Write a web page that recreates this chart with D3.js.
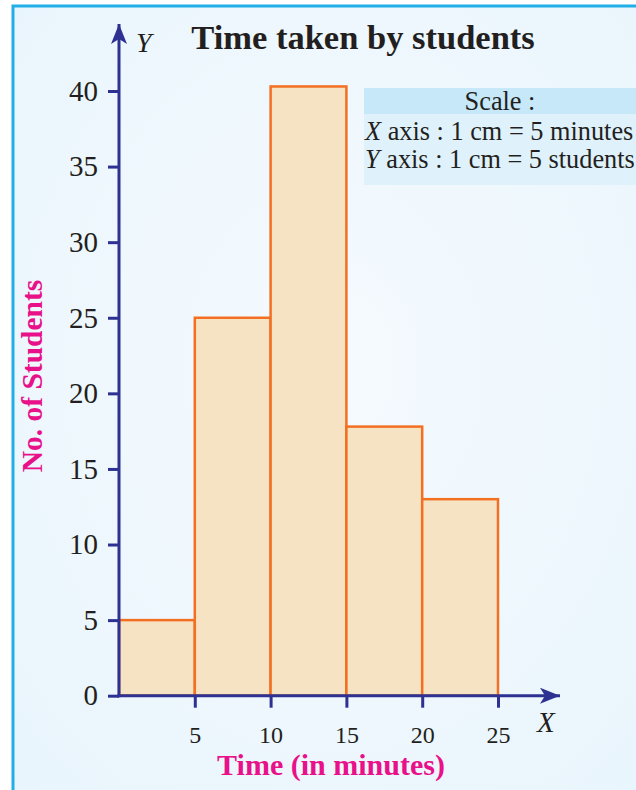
<!DOCTYPE html>
<html>
<head>
<meta charset="utf-8">
<script src="https://cdn.jsdelivr.net/npm/d3@7"></script>
<style>
  html, body { margin: 0; padding: 0; background: #ffffff; }
  svg { display: block; }
</style>
</head>
<body>
<svg id="chart" width="636" height="790"></svg>
<script>
// ---- data ----
const binStarts = [0, 5, 10, 15, 20];
const binEnds   = [5, 10, 15, 20, 25];
const students  = [5, 25, 40.3, 17.8, 13];
const yTicks    = [0, 5, 10, 15, 20, 25, 30, 35, 40];
const xTicks    = [5, 10, 15, 20, 25];
const titleText = "Time taken by students";
const xTitle    = "Time (in minutes)";
const yTitle    = "No. of Students";
const scaleLines = ["Scale :", "axis : 1 cm = 5 minutes", "axis : 1 cm = 5 students"];
const scaleAxes  = ["", "X", "Y"];

const svg = d3.select("#chart");
const serif = "'Liberation Serif', 'DejaVu Serif', serif";
const axisColor = "#2e3192";

// background
const defs = svg.append("defs");
const grad = defs.append("radialGradient").attr("id", "bg")
  .attr("cx", "50%").attr("cy", "45%").attr("r", "75%");
grad.append("stop").attr("offset", "0%").attr("stop-color", "#f5fafe");
grad.append("stop").attr("offset", "100%").attr("stop-color", "#e8f5fc");
svg.append("rect").attr("x", 0).attr("y", 0).attr("width", 636).attr("height", 790).attr("fill", "#ffffff");
svg.append("rect").attr("x", 13).attr("y", 6).attr("width", 640).attr("height", 800)
  .attr("fill", "url(#bg)").attr("stroke", "#22aee6").attr("stroke-width", 3);

// arrow markers
defs.append("marker").attr("id", "arrow").attr("viewBox", "0 0 20 16")
  .attr("refX", 20).attr("refY", 8).attr("markerWidth", 20).attr("markerHeight", 16)
  .attr("markerUnits", "userSpaceOnUse").attr("orient", "auto")
  .append("path").attr("d", "M0,0 L20,8 L0,16 L5,8 Z").attr("fill", axisColor);

const x = d3.scaleLinear().domain([0, 25]).range([119, 498]);
const y = d3.scaleLinear().domain([0, 40]).range([695.7, 91]);

// bars
svg.append("g").selectAll("rect").data(students).join("rect")
  .attr("x", (d, i) => x(binStarts[i]))
  .attr("y", d => y(d))
  .attr("width", (d, i) => x(binEnds[i]) - x(binStarts[i]))
  .attr("height", d => y(0) - y(d))
  .attr("fill", "#f6e3c3")
  .attr("stroke", "#f36f21")
  .attr("stroke-width", 2.5);

// y axis
const yAxis = svg.append("g").attr("transform", `translate(${x(0)},0)`)
  .call(d3.axisLeft(y).tickValues(yTicks).tickSize(11).tickPadding(10).tickFormat(d3.format("d")));
yAxis.select(".domain").remove();
yAxis.selectAll(".tick line").attr("stroke", axisColor).attr("stroke-width", 3);
yAxis.selectAll(".tick text").attr("fill", "#231f20").style("font-family", serif).style("font-size", "29px");

// x axis
const xAxis = svg.append("g").attr("transform", `translate(0,${y(0)})`)
  .call(d3.axisBottom(x).tickValues(xTicks).tickSize(12).tickPadding(18).tickFormat(d3.format("d")));
xAxis.select(".domain").remove();
xAxis.selectAll(".tick line").attr("stroke", axisColor).attr("stroke-width", 3);
xAxis.selectAll(".tick text").attr("fill", "#231f20").style("font-family", serif).style("font-size", "24px");

// axis lines with arrows
svg.append("line").attr("x1", x(0)).attr("y1", y(0) + 1.5).attr("x2", x(0)).attr("y2", 24)
  .attr("stroke", axisColor).attr("stroke-width", 3).attr("marker-end", "url(#arrow)");
svg.append("line").attr("x1", x(0) - 1.5).attr("y1", y(0)).attr("x2", 560).attr("y2", y(0))
  .attr("stroke", axisColor).attr("stroke-width", 3).attr("marker-end", "url(#arrow)");

// axis letters
svg.append("text").attr("x", 136).attr("y", 52).text("Y")
  .style("font-family", serif).style("font-style", "italic").style("font-size", "28px").attr("fill", "#231f20");
svg.append("text").attr("x", 537).attr("y", 732).text("X")
  .style("font-family", serif).style("font-style", "italic").style("font-size", "29px").attr("fill", "#231f20");

// title
svg.append("text").attr("x", 363).attr("y", 49).attr("text-anchor", "middle").text(titleText)
  .style("font-family", serif).style("font-weight", "bold").style("font-size", "34.5px").attr("fill", "#231f20");

// axis titles
svg.append("text").attr("x", 331).attr("y", 775).attr("text-anchor", "middle").text(xTitle)
  .style("font-family", serif).style("font-weight", "bold").style("font-size", "30px").attr("fill", "#e8118a");
svg.append("text").attr("transform", "translate(42,376) rotate(-90)").attr("text-anchor", "middle").text(yTitle)
  .style("font-family", serif).style("font-weight", "bold").style("font-size", "29.5px").attr("fill", "#e8118a");

// scale box
svg.append("rect").attr("x", 364).attr("y", 88).attr("width", 272).attr("height", 26).attr("fill", "#c6e8f8");
svg.append("rect").attr("x", 364).attr("y", 114).attr("width", 272).attr("height", 71).attr("fill", "#dff1fb");
const lineY = [110, 140, 168];
scaleLines.forEach((t, i) => {
  const tx = svg.append("text").attr("y", lineY[i])
    .style("font-family", serif).style("font-size", "26.3px").attr("fill", "#231f20");
  if (i === 0) {
    tx.attr("x", 500).attr("text-anchor", "middle").text(t);
  } else {
    tx.attr("x", 365);
    tx.append("tspan").style("font-style", "italic").text(scaleAxes[i]);
    tx.append("tspan").text(" " + t);
  }
});
</script>
</body>
</html>
